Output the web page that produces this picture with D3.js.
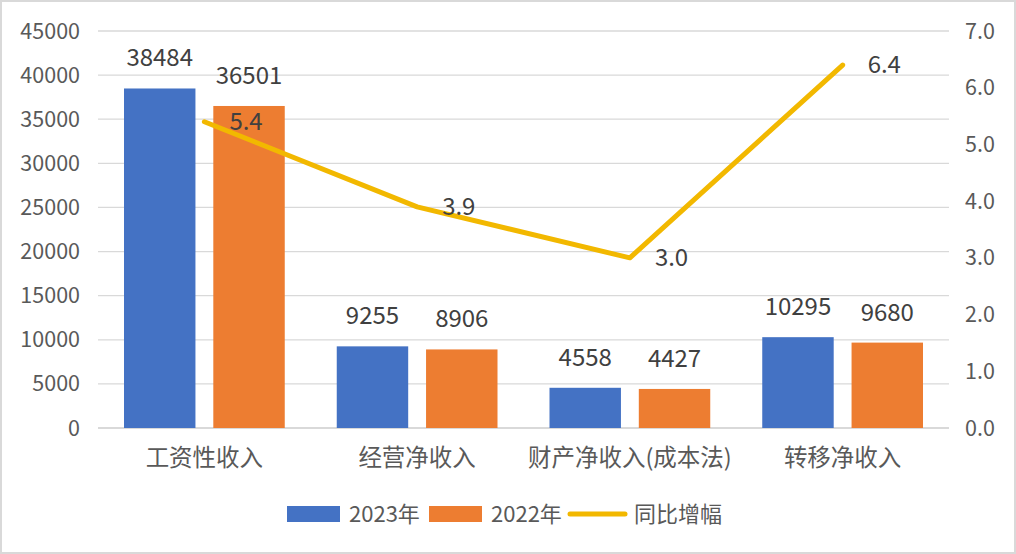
<!DOCTYPE html>
<html>
<head>
<meta charset="utf-8">
<script src="https://cdn.jsdelivr.net/npm/d3@7"></script>
<style>
  body { margin: 0; background: #fff; }
  svg { display: block; font-family: "Noto Sans CJK SC", "Noto Sans", sans-serif; }
</style>
</head>
<body>
<svg id="chart" width="1016" height="554"></svg>
<script>
// Data
const categories = ["工资性收入", "经营净收入", "财产净收入(成本法)", "转移净收入"];
const series = ["2023年", "2022年"];
const values2023 = [38484, 9255, 4558, 10295];
const values2022 = [36501, 8906, 4427, 9680];
const growth = [5.4, 3.9, 3.0, 6.4];
const leftTicks = [0, 5000, 10000, 15000, 20000, 25000, 30000, 35000, 40000, 45000];
const rightTicks = [0, 1, 2, 3, 4, 5, 6, 7];

const colors = {"2023年": "#4472C4", "2022年": "#ED7D31"};
const lineColor = "#F2B800";

const margin = {top: 31, right: 67, bottom: 126, left: 98},
    width = 1016 - margin.left - margin.right,
    height = 554 - margin.top - margin.bottom;

const svg = d3.select("#chart");

// outer frame
svg.append("rect")
    .attr("x", 1).attr("y", 1)
    .attr("width", 1014).attr("height", 552)
    .attr("fill", "#fff")
    .attr("stroke", "#d9d9d9")
    .attr("stroke-width", 2);

const g = svg.append("g")
    .attr("transform", `translate(${margin.left},${margin.top})`);

const x0 = d3.scaleBand()
    .domain(categories)
    .range([0, width]);

const x1 = d3.scaleBand()
    .domain(series)
    .range([26, x0.bandwidth() - 26])
    .paddingInner(0.2);

const y = d3.scaleLinear().domain([0, 45000]).range([height, 0]);
const y2 = d3.scaleLinear().domain([0, 7]).range([height, 0]);

// gridlines
g.append("g")
    .selectAll("line")
    .data(leftTicks)
    .join("line")
    .attr("x1", 0)
    .attr("x2", width)
    .attr("y1", d => y(d))
    .attr("y2", d => y(d))
    .attr("stroke", "#d9d9d9")
    .attr("stroke-width", d => d === 0 ? 2 : 1.3);

// left axis labels
g.append("g")
    .selectAll("text")
    .data(leftTicks)
    .join("text")
    .attr("x", -18)
    .attr("y", d => y(d))
    .attr("dy", "0.35em")
    .attr("text-anchor", "end")
    .attr("font-size", 21.5)
    .attr("fill", "#595959")
    .text(d => d);

// right axis labels
g.append("g")
    .selectAll("text")
    .data(rightTicks)
    .join("text")
    .attr("x", width + 16)
    .attr("y", d => y2(d))
    .attr("dy", "0.35em")
    .attr("text-anchor", "start")
    .attr("font-size", 21.5)
    .attr("fill", "#595959")
    .text(d => d3.format(".1f")(d));

// category labels
g.append("g")
    .selectAll("text")
    .data(categories)
    .join("text")
    .attr("x", d => x0(d) + x0.bandwidth() / 2)
    .attr("y", height + 30)
    .attr("dy", "0.35em")
    .attr("text-anchor", "middle")
    .attr("font-size", 23.5)
    .attr("fill", "#595959")
    .text(d => d);

// bars
const rows = categories.map((c, i) => ({
    category: c,
    values: [
        {series: "2023年", value: values2023[i]},
        {series: "2022年", value: values2022[i]}
    ]
}));

const groups = g.selectAll(".cat")
    .data(rows)
    .join("g")
    .attr("class", "cat")
    .attr("transform", d => `translate(${x0(d.category)},0)`);

groups.selectAll("rect")
    .data(d => d.values)
    .join("rect")
    .attr("x", d => x1(d.series))
    .attr("y", d => y(d.value))
    .attr("width", x1.bandwidth())
    .attr("height", d => height - y(d.value))
    .attr("fill", d => colors[d.series]);

groups.selectAll("text")
    .data(d => d.values)
    .join("text")
    .attr("x", d => x1(d.series) + x1.bandwidth() / 2)
    .attr("y", d => y(d.value) - 22)
    .attr("text-anchor", "middle")
    .attr("font-size", 24)
    .attr("fill", "#404040")
    .text(d => d.value);

// growth line
const linePts = categories.map((c, i) => ({x: x0(c) + x0.bandwidth() / 2, v: growth[i]}));

g.append("path")
    .datum(linePts)
    .attr("fill", "none")
    .attr("stroke", lineColor)
    .attr("stroke-width", 5)
    .attr("stroke-linecap", "round")
    .attr("stroke-linejoin", "round")
    .attr("d", d3.line().x(d => d.x).y(d => y2(d.v)));

g.append("g")
    .selectAll("text")
    .data(linePts)
    .join("text")
    .attr("x", d => d.x + 25)
    .attr("y", d => y2(d.v))
    .attr("dy", "0.35em")
    .attr("text-anchor", "start")
    .attr("font-size", 24)
    .attr("fill", "#404040")
    .text(d => d3.format(".1f")(d.v));

// legend
const legend = svg.append("g").attr("transform", "translate(287,514)");
const legendItems = [
    {label: "2023年", type: "rect", color: colors["2023年"], x: 0},
    {label: "2022年", type: "rect", color: colors["2022年"], x: 142},
    {label: "同比增幅", type: "line", color: lineColor, x: 281}
];
legendItems.forEach(it => {
    const lg = legend.append("g").attr("transform", `translate(${it.x},0)`);
    if (it.type === "rect") {
        lg.append("rect")
            .attr("x", 0).attr("y", -8)
            .attr("width", 53).attr("height", 16)
            .attr("fill", it.color);
    } else {
        lg.append("line")
            .attr("x1", 2).attr("x2", 57)
            .attr("y1", 0).attr("y2", 0)
            .attr("stroke", it.color)
            .attr("stroke-width", 5)
            .attr("stroke-linecap", "round");
    }
    lg.append("text")
        .attr("x", it.type === "rect" ? 62 : 66)
        .attr("y", 0)
        .attr("dy", "0.35em")
        .attr("font-size", 22)
        .attr("fill", "#595959")
        .text(it.label);
});
</script>
</body>
</html>
